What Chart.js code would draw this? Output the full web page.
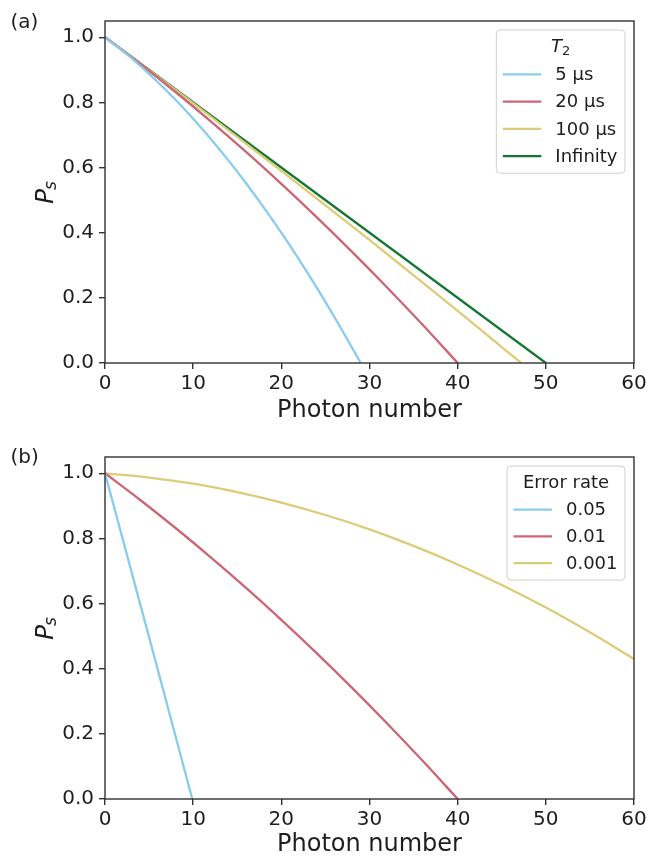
<!DOCTYPE html>
<html>
<head>
<meta charset="utf-8">
<script src="https://cdn.jsdelivr.net/npm/chart.js@4.4.1/dist/chart.umd.min.js"></script>
<style>
  html, body { margin: 0; padding: 0; background: #fff; }
  #wrap { position: relative; width: 660px; height: 859px; }
  .panel { position: absolute; left: 0; width: 660px; }
</style>
</head>
<body>
<div id="wrap">
  <div class="panel" style="top:0;height:430px"><canvas id="chartA" width="660" height="430"></canvas></div>
  <div class="panel" style="top:430px;height:429px"><canvas id="chartB" width="660" height="429"></canvas></div>
</div>
<script>
// panel (a): success probability vs photon number for several T2
const t2Labels = ['5 \u00b5s', '20 \u00b5s', '100 \u00b5s', 'Infinity'];
const n5 = [0, 2, 4, 6, 8, 10, 12, 14, 16, 18, 20, 22, 24, 26, 28, 29];
const ps5 = [1, 0.958, 0.912, 0.862, 0.808, 0.750, 0.688, 0.622, 0.552, 0.478, 0.400, 0.318, 0.232, 0.142, 0.048, 0];
const n20 = [0, 4, 8, 12, 16, 20, 24, 28, 32, 36, 40];
const ps20 = [1, 0.918, 0.832, 0.742, 0.648, 0.550, 0.448, 0.342, 0.232, 0.118, 0];
const n100 = [0, 5, 10, 15, 20, 25, 30, 35, 40, 45, 47.2];
const ps100 = [1, 0.899, 0.798, 0.694, 0.590, 0.484, 0.378, 0.269, 0.160, 0.049, 0];
const nInf = [0, 50];
const psInf = [1, 0];

// panel (b): success probability vs photon number for several error rates
const errLabels = ['0.05', '0.01', '0.001'];
const nE05 = [0, 5, 9.9];
const psE05 = [1, 0.497, 0];
const nE01 = [0, 4, 8, 12, 16, 20, 24, 28, 32, 36, 40];
const psE01 = [1, 0.918, 0.832, 0.742, 0.648, 0.550, 0.448, 0.342, 0.232, 0.118, 0];
const nE001 = [0, 5, 10, 15, 20, 25, 30, 35, 40, 45, 50, 55, 60];
const psE001 = [1, 0.987, 0.968, 0.942, 0.910, 0.872, 0.828, 0.777, 0.720, 0.657, 0.588, 0.512, 0.430];

const xTicks = [0, 10, 20, 30, 40, 50, 60];
const yTicks = [0, 0.2, 0.4, 0.6, 0.8, 1.0];

const colors = ['#88CCEE', '#CC6677', '#DDCC77', '#117733'];
const FONT = "'DejaVu Sans', sans-serif";
const INK = '#1e1e1e';
const SPINE = '#333333';

function pts(xs, ys) {
  return xs.map((x, i) => ({ x: x, y: ys[i] }));
}

function series(label, xs, ys, color) {
  return {
    label: label,
    data: pts(xs, ys),
    borderColor: color,
    backgroundColor: color,
    borderWidth: 2.3,
    pointRadius: 0,
    fill: false,
    cubicInterpolationMode: 'monotone'
  };
}

// spines on all four sides, drawn over the lines like matplotlib
const frame = {
  id: 'frame',
  afterDatasetsDraw(chart) {
    const { ctx, chartArea: a } = chart;
    ctx.save();
    ctx.strokeStyle = SPINE;
    ctx.lineWidth = 1.4;
    ctx.strokeRect(a.left, a.top, a.right - a.left, a.bottom - a.top);
    ctx.restore();
  }
};

// italic P with subscript s, plus panel tag
const extras = {
  id: 'extras',
  afterDraw(chart, args, opts) {
    const { ctx, chartArea: a } = chart;
    ctx.save();
    ctx.fillStyle = INK;
    ctx.textBaseline = 'alphabetic';
    ctx.font = '20px ' + FONT;
    ctx.fillText(opts.tag, 10.5, opts.tagY);

    const cy = (a.top + a.bottom) / 2;
    ctx.translate(53, cy);
    ctx.rotate(-Math.PI / 2);
    ctx.font = 'italic 25px ' + FONT;
    const wP = ctx.measureText('P').width;
    ctx.font = 'italic 17px ' + FONT;
    const wS = ctx.measureText('s').width;
    const x0 = -(wP + wS) / 2;
    ctx.font = 'italic 25px ' + FONT;
    ctx.fillText('P', x0, 0);
    ctx.font = 'italic 17px ' + FONT;
    ctx.fillText('s', x0 + wP - 1, 3);
    ctx.restore();
  }
};

// matplotlib style legend box in the upper right corner
const boxLegend = {
  id: 'boxLegend',
  afterDraw(chart, args, opts) {
    const { ctx, chartArea: a } = chart;
    const sets = chart.data.datasets;
    ctx.save();
    ctx.font = '18px ' + FONT;
    let maxW = 0;
    sets.forEach(d => { maxW = Math.max(maxW, ctx.measureText(d.label).width); });
    const padL = 6.5, handle = 38.5, gap = 14, padR = 7.5;
    const w = padL + handle + gap + maxW + padR;
    const rowH = opts.rowH;
    const h = 17 + rowH * sets.length + 17;
    const right = a.right - 9;
    const top = a.top + 9;
    const left = right - w;

    ctx.beginPath();
    ctx.roundRect(left, top, w, h, 4);
    ctx.fillStyle = 'rgba(255,255,255,0.8)';
    ctx.fill();
    ctx.strokeStyle = '#d0d0d0';
    ctx.lineWidth = 1;
    ctx.stroke();

    // title
    const cx = left + w / 2;
    const ty = top + 17;
    ctx.fillStyle = INK;
    ctx.textBaseline = 'middle';
    if (opts.title === 'T2') {
      ctx.font = 'italic 18px ' + FONT;
      const wT = ctx.measureText('T').width;
      ctx.font = '13px ' + FONT;
      const w2 = ctx.measureText('2').width;
      const sx = cx - (wT + w2) / 2;
      ctx.font = 'italic 18px ' + FONT;
      ctx.fillText('T', sx, ty);
      ctx.font = '13px ' + FONT;
      ctx.fillText('2', sx + wT, ty + 5);
    } else {
      ctx.font = '18px ' + FONT;
      ctx.textAlign = 'center';
      ctx.fillText(opts.title, cx, ty);
      ctx.textAlign = 'left';
    }

    ctx.font = '18px ' + FONT;
    sets.forEach((d, i) => {
      const y = ty + rowH * (i + 1);
      ctx.strokeStyle = d.borderColor;
      ctx.lineWidth = 2.3;
      ctx.beginPath();
      ctx.moveTo(left + padL, y);
      ctx.lineTo(left + padL + handle, y);
      ctx.stroke();
      ctx.fillStyle = INK;
      ctx.fillText(d.label, left + padL + handle + gap, y + 1);
    });
    ctx.restore();
  }
};

function makeChart(id, datasets, cfg) {
  return new Chart(document.getElementById(id), {
    type: 'line',
    data: { datasets: datasets },
    options: {
      responsive: false,
      animation: false,
      devicePixelRatio: 1,
      layout: { padding: { top: cfg.padTop, right: 26, left: 0, bottom: 0 } },
      plugins: {
        legend: { display: false },
        tooltip: { enabled: false },
        extras: { tag: cfg.tag, tagY: cfg.tagY },
        boxLegend: { title: cfg.legendTitle, rowH: cfg.rowH }
      },
      scales: {
        x: {
          type: 'linear',
          min: 0,
          max: 60,
          afterBuildTicks: s => { s.ticks = xTicks.map(v => ({ value: v })); },
          afterFit: s => { s.height = cfg.xHeight; },
          ticks: { font: { family: FONT, size: 20 }, color: INK, padding: 3, maxRotation: 0 },
          grid: { drawOnChartArea: false, drawTicks: true, tickLength: 6, color: SPINE, lineWidth: 1.4 },
          border: { display: false },
          title: {
            display: true,
            text: 'Photon number',
            font: { family: FONT, size: 24 },
            color: INK,
            padding: { top: 0, bottom: cfg.titlePad }
          }
        },
        y: {
          type: 'linear',
          min: 0,
          max: 1.05,
          afterBuildTicks: s => { s.ticks = yTicks.map(v => ({ value: v })); },
          afterFit: s => { s.width = 105; },
          ticks: { font: { family: FONT, size: 20 }, color: INK, padding: 5, callback: v => v.toFixed(1) },
          grid: { drawOnChartArea: false, drawTicks: true, tickLength: 6, color: SPINE, lineWidth: 1.4 },
          border: { display: false }
        }
      }
    },
    plugins: [frame, extras, boxLegend]
  });
}

makeChart('chartA', [
  series(t2Labels[0], n5, ps5, colors[0]),
  series(t2Labels[1], n20, ps20, colors[1]),
  series(t2Labels[2], n100, ps100, colors[2]),
  series(t2Labels[3], nInf, psInf, colors[3])
], { padTop: 21, xHeight: 67, titlePad: 5, tag: '(a)', tagY: 28, legendTitle: 'T2', rowH: 27.3 });

makeChart('chartB', [
  series(errLabels[0], nE05, psE05, colors[0]),
  series(errLabels[1], nE01, psE01, colors[1]),
  series(errLabels[2], nE001, psE001, colors[2])
], { padTop: 27, xHeight: 60, titlePad: 0, tag: '(b)', tagY: 32.5, legendTitle: 'Error rate', rowH: 26.7 });
</script>
</body>
</html>
